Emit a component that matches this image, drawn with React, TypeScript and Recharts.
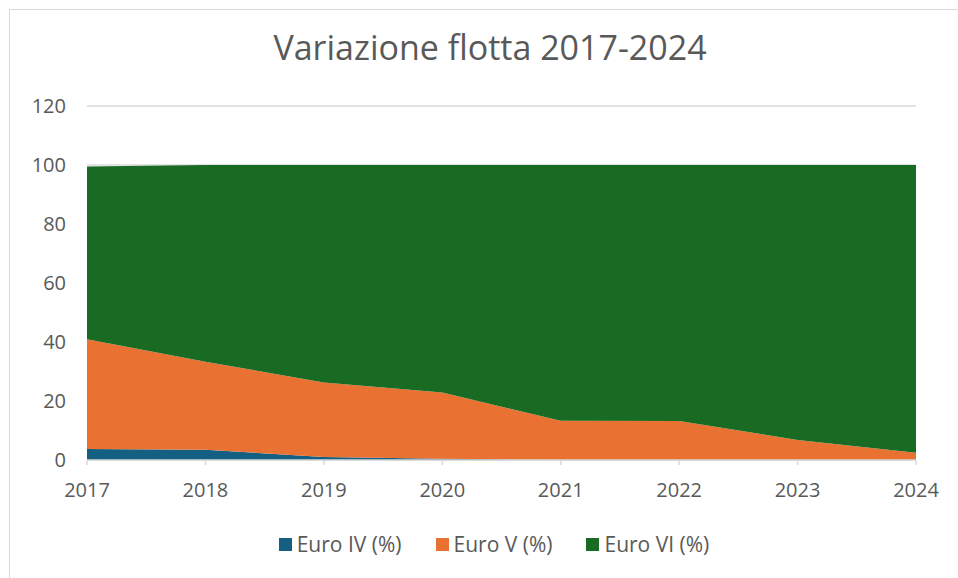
import { AreaChart, Area, XAxis, YAxis, CartesianGrid } from 'recharts';

// Variazione flotta 2017-2024 – quote percentuali per classe Euro
const years = ['2017', '2018', '2019', '2020', '2021', '2022', '2023', '2024'];
const euroIV = [3.7, 3.5, 1, 0.4, 0, 0, 0, 0];
const euroV = [37.2, 29.8, 25.3, 22.5, 13.3, 13.2, 6.8, 2.5];
const euroVI = [58.6, 66.7, 73.7, 77.1, 86.7, 86.8, 93.2, 97.5];
const yTicks = [0, 20, 40, 60, 80, 100, 120];

const series = [
  { key: 'euroIV', name: 'Euro IV (%)', color: '#156082' },
  { key: 'euroV', name: 'Euro V (%)', color: '#E97132' },
  { key: 'euroVI', name: 'Euro VI (%)', color: '#196B24' },
];

const data = years.map((year, i) => ({
  year,
  euroIV: euroIV[i],
  euroV: euroV[i],
  euroVI: euroVI[i],
}));

const FONT = '"Open Sans", "Liberation Sans", Arial, sans-serif';
const TEXT = '#595959';

export default function App() {
  return (
    <div style={{ position: 'relative', width: 958, height: 578, background: '#fff', fontFamily: FONT }}>
      <style>{'body{margin:0}'}</style>
      <div
        style={{
          position: 'absolute',
          left: 9,
          top: 9,
          width: 949,
          height: 569,
          borderLeft: '1.5px solid #d9d9d9',
          borderTop: '1.5px solid #d9d9d9',
        }}
      />
      <div
        style={{
          position: 'absolute',
          left: 0,
          top: 24,
          width: 980,
          textAlign: 'center',
          fontSize: 34,
          color: TEXT,
        }}
      >
        Variazione flotta 2017-2024
      </div>
      <div style={{ position: 'absolute', left: 0, top: 0 }}>
        <AreaChart width={958} height={578} data={data} margin={{ top: 106, right: 42, bottom: 78, left: 0 }}>
          <CartesianGrid vertical={false} stroke="#d9d9d9" strokeWidth={1.5} />
          <XAxis
            dataKey="year"
            stroke="#d9d9d9"
            strokeWidth={1.5}
            tickSize={5}
            tickMargin={18}
            height={40}
            tick={{ fill: TEXT, fontSize: 20, fontFamily: FONT }}
          />
          <YAxis
            domain={[0, 120]}
            ticks={yTicks}
            width={87}
            axisLine={false}
            tickLine={false}
            tickSize={0}
            tickMargin={21}
            tick={{ fill: TEXT, fontSize: 20, fontFamily: FONT }}
          />
          {series.map((s) => (
            <Area
              key={s.key}
              type="linear"
              dataKey={s.key}
              name={s.name}
              stackId="1"
              stroke="none"
              fill={s.color}
              fillOpacity={1}
              isAnimationActive={false}
            />
          ))}
        </AreaChart>
      </div>
      <div
        style={{
          position: 'absolute',
          left: 0,
          top: 530,
          width: 988,
          display: 'flex',
          justifyContent: 'center',
          gap: 34,
          fontSize: 21,
          color: TEXT,
        }}
      >
        {series.map((s) => (
          <div key={s.key} style={{ display: 'flex', alignItems: 'center' }}>
            <span style={{ width: 13, height: 13, background: s.color, display: 'inline-block', marginRight: 5 }} />
            <span>{s.name}</span>
          </div>
        ))}
      </div>
    </div>
  );
}
